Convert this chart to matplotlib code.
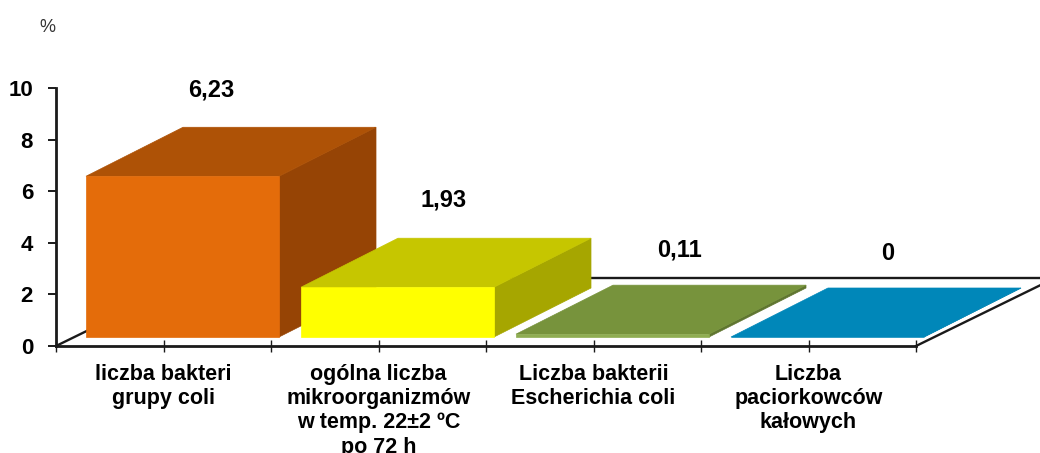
import matplotlib
matplotlib.use("Agg")
import matplotlib.pyplot as plt
from matplotlib.patches import Polygon

plt.rcParams['font.family'] = ['Liberation Sans', 'DejaVu Sans']

# Data
categories = ["liczba bakteri\ngrupy coli",
              "ogólna liczba\nmikroorganizmów\nw temp. 22±2 ºC\npo 72 h",
              "Liczba bakterii\nEscherichia coli",
              "Liczba\npaciorkowców\nkałowych"]
values = [6.23, 1.93, 0.11, 0]
value_labels = ["6,23", "1,93", "0,11", "0"]
y_ticks = [0, 2, 4, 6, 8, 10]

# Colours: front, top, side
front_colors = ["#E46C0A", "#FFFF00", "#8FAD52", "#0087B9"]
top_colors = ["#AE5206", "#C6C600", "#77933C", "#0087B9"]
side_colors = ["#964405", "#A6A600", "#5F7530", "#006C94"]

# Layout in pixels of the 1040x453 picture
W, H = 1040, 453
x0, x1 = 56, 916
y0, y10 = 346, 88
px_x = 4 / (x1 - x0)
px_y = 10 / (y0 - y10)

fig = plt.figure(figsize=(W / 100, H / 100), dpi=100)
ax = fig.add_axes([x0 / W, 1 - y0 / H, (x1 - x0) / W, (y0 - y10) / H])
ax.set_xlim(0, 4)
ax.set_ylim(0, 10)

# Floor outline
floor_dx = 139 * px_x
floor_dy = 68 * px_y
ax.plot([0, floor_dx, 4 + floor_dx, 4], [0, floor_dy, floor_dy, 0],
        color="#1a1a1a", lw=1.7, clip_on=False, zorder=1)

# 3D bars
depth_dx = 97 * px_x
depth_dy = 49 * px_y
lift = 9 * px_y
left_gap = 30 * px_x
bar_w = 193 * px_x

for i, v in enumerate(values):
    l = i + left_gap
    r = l + bar_w
    b = lift
    t = lift + v
    ax.add_patch(Polygon([(r, b), (r + depth_dx, b + depth_dy),
                          (r + depth_dx, t + depth_dy), (r, t)],
                         fc=side_colors[i], ec=side_colors[i], lw=0.5, clip_on=False, zorder=2 + i))
    ax.add_patch(Polygon([(l, t), (l + depth_dx, t + depth_dy),
                          (r + depth_dx, t + depth_dy), (r, t)],
                         fc=top_colors[i], ec=top_colors[i], lw=0.5, clip_on=False, zorder=2 + i))
    ax.add_patch(Polygon([(l, b), (r, b), (r, t), (l, t)],
                         fc=front_colors[i], ec=front_colors[i], lw=0.5, clip_on=False, zorder=2 + i))

# Axes
for s in ["top", "right"]:
    ax.spines[s].set_visible(False)
for s in ["left", "bottom"]:
    ax.spines[s].set_linewidth(2)
    ax.spines[s].set_color("#1a1a1a")
    ax.spines[s].set_zorder(10)

ax.set_yticks(y_ticks)
ax.tick_params(axis="y", length=6, width=1.4, pad=10.5, labelsize=16, color="#1a1a1a")
for lab in ax.get_yticklabels():
    lab.set_fontweight("bold")

ax.set_xticks([i * 0.5 for i in range(9)])
ax.set_xticklabels([])
ax.tick_params(axis="x", direction="inout", length=9, width=1, color="#1a1a1a")

# Category labels
for i, c in enumerate(categories):
    ax.text(i + 0.5, -18 * px_y, c, ha="center", va="top", fontsize=15.5,
            fontweight="bold", linespacing=1.2, clip_on=False)

# Value labels, placed by hand above the bars
label_x = [211, 444, 680, 888]
label_y = [90, 200, 250, 254]
for txt, lx, ly in zip(value_labels, label_x, label_y):
    fig.text(lx / W, 1 - ly / H, txt, ha="center", va="center", fontsize=17, fontweight="bold")

fig.text(47 / W, 1 - 28 / H, "%", ha="center", va="center", fontsize=13, color="#333333")

fig.savefig("out.png", dpi=100)
